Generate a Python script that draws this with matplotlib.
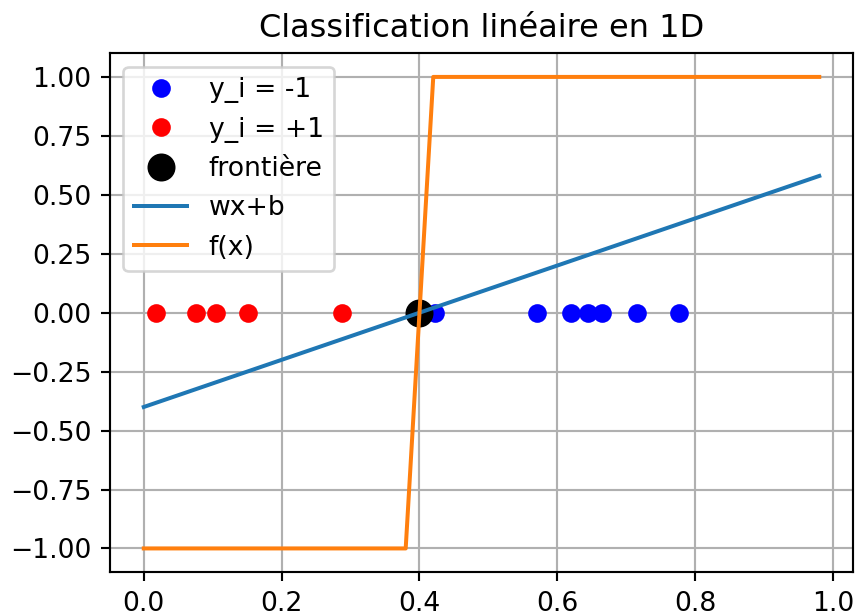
import numpy as np
import matplotlib
matplotlib.use('Agg')
import matplotlib.pyplot as plt

# points
x_neg = [0.423, 0.570, 0.620, 0.644, 0.665, 0.715, 0.777]   # y_i = -1
x_pos = [0.018, 0.076, 0.105, 0.151, 0.287]                 # y_i = +1
x_front = [0.40]

# droite wx+b et fonction de decision f(x)
lin_x = [0.0, 0.98]
lin_y = [-0.40, 0.58]
f_x = [0.0, 0.38, 0.40, 0.42, 0.98]
f_y = [-1.0, -1.0, 0.0, 1.0, 1.0]

DPI = 192
fig = plt.figure(figsize=(858 / DPI, 616 / DPI), dpi=DPI)
ax = fig.add_axes([0.1282, 0.0714, 0.866, 0.842])

ax.plot(x_neg, np.zeros(len(x_neg)), 'o', color='blue', label='y_i = -1')
ax.plot(x_pos, np.zeros(len(x_pos)), 'o', color='red', label='y_i = +1')
ax.plot(x_front, np.zeros(len(x_front)), 'o', color='black', ms=9.5, label='frontière')
ax.plot(lin_x, lin_y, label='wx+b')
ax.plot(f_x, f_y, label='f(x)')

ax.set_title('Classification linéaire en 1D')
ax.set_ylim(-1.1, 1.1)
ax.grid()
ax.legend(loc='upper left')

fig.savefig('out.png', dpi=DPI)
